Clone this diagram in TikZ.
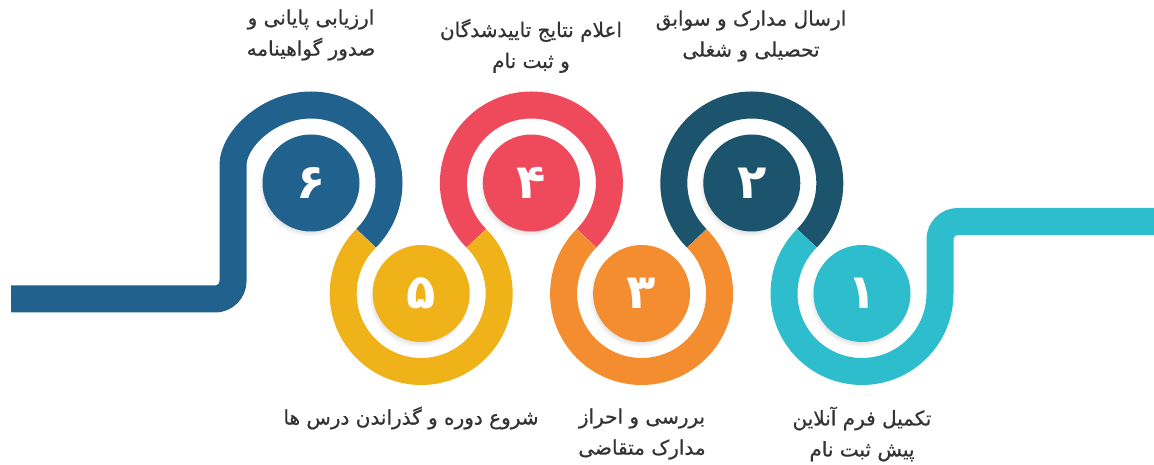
\documentclass[tikz,border=0pt]{standalone}
\usepackage{fontspec}
\usepackage{tikz}
\usetikzlibrary{shadows}
\newfontfamily\farsi[Script=Arabic]{DejaVu Sans}
\newfontfamily\farsimid[Script=Arabic, FakeBold=0.7]{DejaVu Sans}
\TeXXeTstate=1
\definecolor{sixcol}{HTML}{20618D}
\definecolor{fivecol}{HTML}{F0B219}
\definecolor{fourcol}{HTML}{EE4A5C}
\definecolor{threecol}{HTML}{F38D2F}
\definecolor{twocol}{HTML}{1C536D}
\definecolor{onecol}{HTML}{2DBDCC}
\definecolor{txtcol}{HTML}{333333}

\begin{document}
\begin{tikzpicture}[x=1pt, y=1pt,
    disc/.style={circle, minimum size=97pt, inner sep=0pt, text=white,
      font=\farsi\bfseries\fontsize{48}{48}\selectfont,
      circular drop shadow={shadow xshift=-2pt, shadow yshift=-3pt, shadow scale=1.04, opacity=.3}},
    ribbon/.style={line width=27pt, line cap=butt},
    lbl/.style={align=center, text=txtcol, font=\farsimid\fontsize{20}{31}\selectfont}]
    \useasboundingbox (0,0) rectangle (1154,465);

    \node[disc, fill=sixcol] (s6) at (311, 282) {۶};
    \node[disc, fill=fivecol] (s5) at (421.2, 171.5) {۵};
    \node[disc, fill=fourcol] (s4) at (531.4, 282) {۴};
    \node[disc, fill=threecol] (s3) at (641.6, 171.5) {۳};
    \node[disc, fill=twocol] (s2) at (751.8, 282) {۲};
    \node[disc, fill=onecol] (s1) at (862, 171.5) {۱};

    \coordinate (west) at (11, 166);
    \coordinate (east) at (1154, 243.5);

    \draw[ribbon, sixcol] (west) [rounded corners=18pt] -| ([xshift=-78pt]s6.center) [sharp corners] arc[start angle=180, end angle=-45, radius=78];
    \draw[ribbon, fivecol] (s5.center) ++(135:78) arc[start angle=135, end angle=405, radius=78];
    \draw[ribbon, fourcol] (s4.center) ++(225:78) arc[start angle=225, end angle=-45, radius=78];
    \draw[ribbon, threecol] (s3.center) ++(135:78) arc[start angle=135, end angle=405, radius=78];
    \draw[ribbon, twocol] (s2.center) ++(225:78) arc[start angle=225, end angle=-45, radius=78];
    \draw[ribbon, onecol] (s1.center) ++(135:78) arc[start angle=135, end angle=360, radius=78] [rounded corners=18pt] |- (east);

    \node[lbl] (t6) at (311, 430) {\beginR ارزیابی پایانی و\endR\\ \beginR صدور گواهینامه\endR};
    \node[lbl] (t4) at (531, 419) {\beginR اعلام نتایج تاییدشدگان\endR\\ \beginR و ثبت نام\endR};
    \node[lbl] (t2) at (751, 429) {\beginR ارسال مدارک و سوابق\endR\\ \beginR تحصیلی و شغلی\endR};
    \node[lbl] (t5) at (411, 47) {\beginR شروع دوره و گذراندن درس ها\endR};
    \node[lbl] (t3) at (642, 31) {\beginR بررسی و احراز\endR\\ \beginR مدارک متقاضی\endR};
    \node[lbl] (t1) at (862, 31) {\beginR تکمیل فرم آنلاین\endR\\ \beginR پیش ثبت نام\endR};
\end{tikzpicture}
\end{document}
